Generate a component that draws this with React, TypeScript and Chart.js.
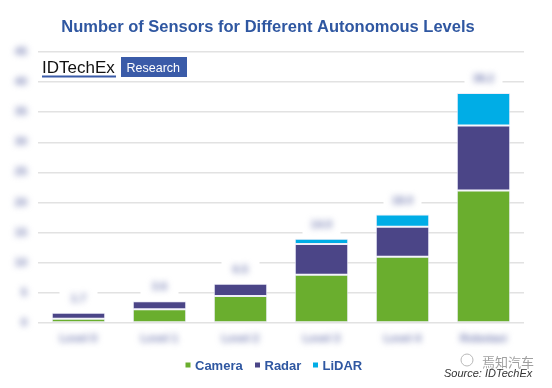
import React, { useEffect, useRef } from "react";
import { Chart, registerables } from "chart.js";

Chart.register(...registerables);

const categories = ["Level 0", "Level 1", "Level 2", "Level 3", "Level 4", "Robotaxi"];
const cameraValues = [0.7, 2.3, 4.5, 8, 11, 22];
const radarValues = [1.0, 1.3, 2.0, 5.1, 5.0, 10.8];
const lidarValues = [0, 0, 0, 0.9, 2.0, 5.4];
const seriesNames = ["Camera", "Radar", "LiDAR"];
const seriesColors = ["#6aae2e", "#4b4587", "#00ade6"];
const yMax = 45;
const yStep = 5;

const TITLE = "Number of Sensors for Different Autonomous Levels";
const BLUE = "#2f57a1";
const FONT = "'Liberation Sans', Arial, sans-serif";

const decorPlugin = {
  id: "decor",
  afterDraw(chart: any) {
    const ctx = chart.ctx as CanvasRenderingContext2D;
    const xs = chart.scales.x;
    const ys = chart.scales.y;
    ctx.save();
    // title
    ctx.fillStyle = BLUE;
    ctx.font = `bold 16.5px ${FONT}`;
    ctx.textAlign = "center";
    ctx.textBaseline = "alphabetic";
    ctx.fillText(TITLE, 268, 32);

    // logo
    ctx.fillStyle = "#111";
    ctx.font = `17px ${FONT}`;
    ctx.textAlign = "left";
    ctx.fillText("IDTechEx", 42, 73);
    ctx.fillStyle = "#3a5ba8";
    ctx.fillRect(42, 75.5, 74, 2);
    ctx.fillStyle = "#3a5ba8";
    ctx.fillRect(121, 57, 66, 20);
    ctx.fillStyle = "#ffffff";
    ctx.font = `12.5px ${FONT}`;
    ctx.fillText("Research", 126.5, 72);

    // value labels above bars (blurred)
    const totals = categories.map((_, i) => cameraValues[i] + radarValues[i] + lidarValues[i]);
    totals.forEach((t, i) => {
      const x = xs.getPixelForValue(i);
      const top = ys.getPixelForValue(t);
      ctx.filter = "none";
      ctx.fillStyle = "#ffffff";
      ctx.fillRect(x - 19, top - 27, 38, 24);
      ctx.filter = "blur(3px)";
      ctx.fillStyle = "#7880b4";
      ctx.font = `bold 11px ${FONT}`;
      ctx.textAlign = "center";
      ctx.textBaseline = "middle";
      ctx.fillText(t.toFixed(1), x, top - 14);
    });

    // y tick labels (blurred)
    ctx.filter = "blur(3px)";
    ctx.fillStyle = "#7880b4";
    ctx.font = `bold 11px ${FONT}`;
    ctx.textAlign = "right";
    ctx.textBaseline = "middle";
    ys.ticks.forEach((tk: any) => {
      ctx.fillText(String(tk.value), 27, ys.getPixelForValue(tk.value));
    });
    // x tick labels (blurred)
    ctx.textAlign = "center";
    categories.forEach((c, i) => {
      ctx.fillText(c, xs.getPixelForValue(i), 339);
    });
    ctx.filter = "none";

    // legend
    ctx.font = `bold 13px ${FONT}`;
    ctx.textBaseline = "alphabetic";
    ctx.textAlign = "left";
    const legendX = [185.5, 255, 313];
    chart.data.datasets.forEach((ds: any, i: number) => {
      ctx.fillStyle = ds.backgroundColor;
      ctx.fillRect(legendX[i], 362.5, 5, 5);
      ctx.fillStyle = BLUE;
      ctx.fillText(ds.label, legendX[i] + 9.5, 369.5);
    });

    // watermark + source
    ctx.fillStyle = "#a0a0a0";
    ctx.font = `13px 'Noto Sans CJK SC', sans-serif`;
    ctx.fillText("焉知汽车", 482, 367);
    ctx.strokeStyle = "#b8b8b8";
    ctx.lineWidth = 1;
    ctx.beginPath();
    ctx.arc(467, 360, 6, 0, Math.PI * 2);
    ctx.stroke();
    ctx.fillStyle = "#333";
    ctx.font = `italic 11px ${FONT}`;
    ctx.fillText("Source: IDTechEx", 444, 377);
    ctx.restore();
  },
};

export default function App() {
  const ref = useRef<HTMLCanvasElement | null>(null);
  useEffect(() => {
    if (!ref.current) return;
    const chart = new Chart(ref.current, {
      type: "bar",
      data: {
        labels: categories,
        datasets: [cameraValues, radarValues, lidarValues].map((vals, i) => ({
          label: seriesNames[i],
          data: vals,
          backgroundColor: seriesColors[i],
          borderColor: "rgba(235,235,248,0.9)",
          borderWidth: (c: any) => (c.raw > 0 ? 1 : 0),
          borderSkipped: false,
          barPercentage: 0.66,
          categoryPercentage: 1,
        })),
      },
      options: {
        responsive: false,
        animation: false,
        devicePixelRatio: 1,
        layout: { padding: { top: 52, right: 28, bottom: 0, left: 0 } },
        plugins: { legend: { display: false }, title: { display: false }, tooltip: { enabled: false } },
        scales: {
          x: {
            stacked: true,
            grid: { display: false },
            border: { display: false },
            ticks: { display: false },
            afterFit: (s: any) => { s.height = 65; },
          },
          y: {
            stacked: true,
            min: 0,
            max: yMax,
            ticks: { stepSize: yStep, display: false },
            grid: { color: "#e2e2e2", lineWidth: 1.5, drawTicks: false },
            border: { display: false },
            afterFit: (s: any) => { s.width = 38; },
          },
        },
      },
      plugins: [decorPlugin],
    });
    return () => chart.destroy();
  }, []);
  return (
    <div style={{ position: "absolute", left: 0, top: 0, width: 552, height: 388, background: "#fff" }}>
      <canvas ref={ref} width={552} height={388} style={{ width: 552, height: 388 }} />
    </div>
  );
}
